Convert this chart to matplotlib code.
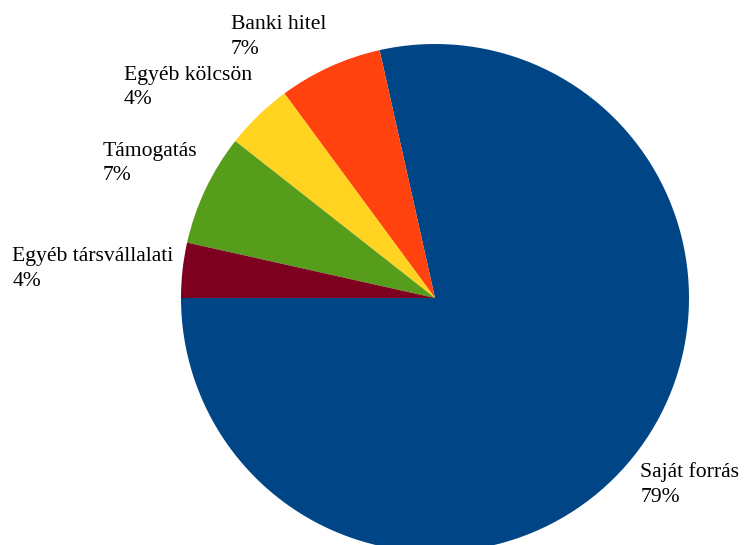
import numpy as np
import matplotlib.pyplot as plt

# data
categories = ["Saját forrás", "Banki hitel", "Egyéb kölcsön", "Támogatás", "Egyéb társvállalati"]
shares = [78.5, 6.6, 4.3, 7.1, 3.5]
pct_labels = ["79%", "7%", "4%", "7%", "4%"]
colors = ["#004586", "#ff420e", "#ffd320", "#579d1c", "#7e0021"]

W, H, DPI = 744, 545, 100
radius_px = 254
cx_px, cy_px = 435, 298  # pie centre, pixels from top-left

plt.rcParams["font.family"] = ["Liberation Serif", "DejaVu Serif"]

fig = plt.figure(figsize=(W / DPI, H / DPI), dpi=DPI)
ax = fig.add_axes([0, 0, 1, 1])

wedges, _ = ax.pie(shares, colors=colors, startangle=180, counterclock=True,
                   radius=1.0, wedgeprops=dict(linewidth=0))

# map the unit pie onto the pixel layout of the reference
ax.set_xlim(-cx_px / radius_px, (W - cx_px) / radius_px)
ax.set_ylim(-(H - cy_px) / radius_px, cy_px / radius_px)
ax.set_aspect("auto")
ax.axis("off")

# labels anchored just outside each wedge, LibreOffice style
r_lab = 1.035
for w, name, pct in zip(wedges, categories, pct_labels):
    mid = np.deg2rad((w.theta1 + w.theta2) / 2)
    c, s = np.cos(mid), np.sin(mid)
    ha = "right" if c < 0 else "left"
    if abs(s) < 0.2:
        va = "center"
    elif s > 0:
        va = "bottom"
    else:
        va = "top"
    ax.text(r_lab * c, r_lab * s, f"{name}\n{pct}", ha=ha, va=va,
            multialignment="left", fontsize=15.6, linespacing=1.38,
            color="black")

fig.savefig("out.png", dpi=DPI)
